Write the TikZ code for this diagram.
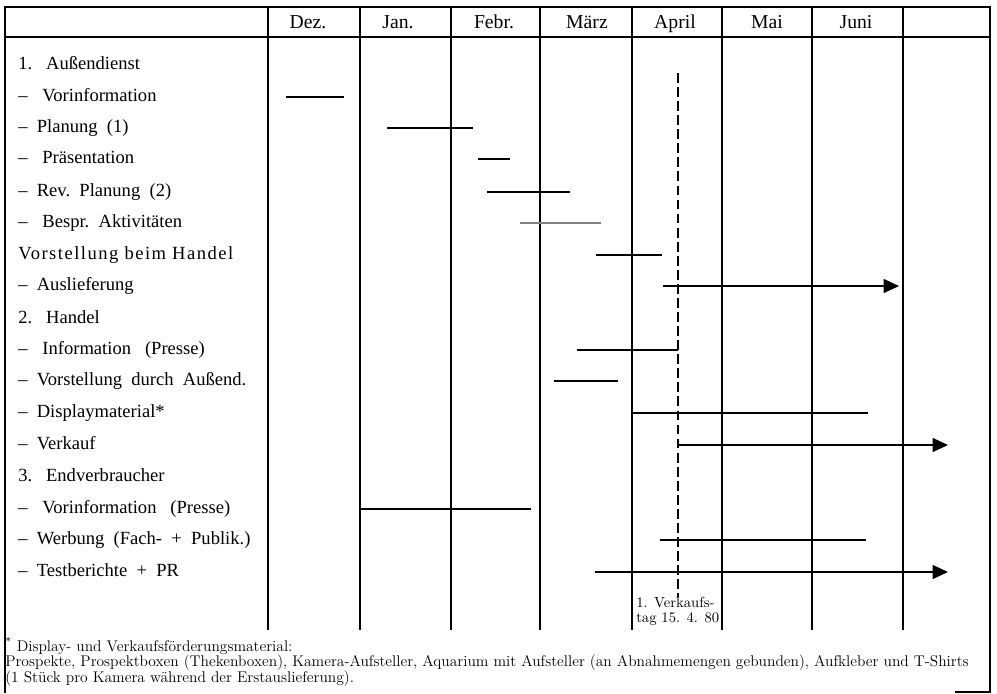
\documentclass[tikz,border=0pt]{standalone}
\usepackage{fontspec}
\newfontfamily\tabfont{Liberation Serif}
\usetikzlibrary{arrows.meta}

\newcommand{\dd}{–\enspace}
\newcommand{\ddw}{–\hspace{0.8em}}
\newcommand{\nr}[1]{#1.\hspace{0.75em}}

\begin{document}
\begin{tikzpicture}[
    x=0.025cm, y=-0.025cm,
    font=\tabfont\fontsize{13.2}{15}\selectfont,
    frame/.style={line width=1.6pt},
    col/.style={line width=1.1pt},
    month/.style={anchor=base, inner sep=0pt, font=\tabfont\fontsize{14}{16}\selectfont},
    task/.style={anchor=west, inner sep=0pt, text height=1.4ex, text depth=0pt},
    bar/.style={line width=0.9pt},
    arr/.style={line width=0.9pt, -{Triangle[length=11pt, width=10pt]}},
    daymark/.style={line width=1pt, dash pattern=on 7pt off 3pt},
    note/.style={font=\rmfamily\fontsize{11}{11.2}\selectfont, anchor=north west,
                 align=left, inner sep=0pt}
]
    \useasboundingbox (0,0) rectangle (997,693);

    % frame and month columns
    \draw[frame] (5,693) -- (5,7) -- (990,7) -- (990,693);
    \draw[frame] (5,37) -- (990,37);
    \draw[frame] (955,692) -- (990,692);
    \foreach \x in {268,360,451,540,632,722,812,903}
        \draw[col] (\x,7) -- (\x,630);

    \node[month] (dez) at (308,28) {Dez.};
    \node[month] (jan) at (398,28) {Jan.};
    \node[month] (feb) at (494,28) {Febr.};
    \node[month] (mar) at (587,28) {März};
    \node[month] (apr) at (675,28) {April};
    \node[month] (mai) at (767,28) {Mai};
    \node[month] (jun) at (856,28) {Juni};

    % tasks
    \node[task] (aussen)  at (18,65)  {\nr{1}Außendienst};
    \node[task] (vorinfo) at (18,97)  {\ddw Vorinformation};
    \node[task] (plan)    at (18,128) {\dd Planung~~(1)};
    \node[task] (praes)   at (18,159) {\ddw Präsentation};
    \node[task] (revplan) at (18,192) {\dd Rev.~~Planung~~(2)};
    \node[task] (bespr)   at (18,223) {\ddw Bespr.~~Aktivitäten};
    \node[task] (vorst)   at (18,255) {\addfontfeature{LetterSpace=8}Vorstellung~beim~Handel};
    \node[task] (ausl)    at (18,286) {\dd Auslieferung};
    \node[task] (handel)  at (18,319) {\nr{2}Handel};
    \node[task] (info)    at (18,350) {\ddw Information~~~(Presse)};
    \node[task] (vorstad) at (18,381) {\dd Vorstellung~~durch~~Außend.};
    \node[task] (display) at (18,413) {\dd Displaymaterial*};
    \node[task] (verkauf) at (18,445) {\dd Verkauf};
    \node[task] (endv)    at (18,477) {\nr{3}Endverbraucher};
    \node[task] (presse)  at (18,509) {\ddw Vorinformation~~~(Presse)};
    \node[task] (werbung) at (18,540) {\dd Werbung~~(Fach-~~+~~Publik.)};
    \node[task] (test)    at (18,572) {\dd Testberichte~~+~~PR};

    % bars
    \draw[bar] (286,0 |- vorinfo) -- (344,0 |- vorinfo);
    \draw[bar] (387,0 |- plan) -- (473,0 |- plan);
    \draw[bar] (478,0 |- praes) -- (510,0 |- praes);
    \draw[bar] (487,0 |- revplan) -- (570,0 |- revplan);
    \draw[bar, gray] (520,0 |- bespr) -- (601,0 |- bespr);
    \draw[bar] (596,0 |- vorst) -- (662,0 |- vorst);
    \draw[arr] (663,0 |- ausl) -- (899,0 |- ausl);
    \draw[bar] (577,0 |- info) -- (678,0 |- info);
    \draw[bar] (554,0 |- vorstad) -- (618,0 |- vorstad);
    \draw[bar] (632,0 |- display) -- (868,0 |- display);
    \draw[arr] (678,0 |- verkauf) -- (948,0 |- verkauf);
    \draw[bar] (360,0 |- presse) -- (531,0 |- presse);
    \draw[bar] (660,0 |- werbung) -- (866,0 |- werbung);
    \draw[arr] (595,0 |- test) -- (948,0 |- test);

    % first day of sale
    \node[note, font=\rmfamily\fontsize{10.4}{10.8}\selectfont] (tag) at (636,597)
        {1. Verkaufs-\\tag 15. 4. 80};
    \coordinate (tagtop) at (678,73);
    \draw[daymark] (tagtop) -- (tagtop |- tag.north);

    % footnote
    \node[note] (fn) at (5,637)
        {\textsuperscript{*} Display- und Verkaufsförderungsmaterial:\\
         Prospekte, Prospektboxen (Thekenboxen), Kamera-Aufsteller, Aquarium mit Aufsteller (an Abnahmemengen gebunden), Aufkleber und T-Shirts\\
         (1 Stück pro Kamera während der Erstauslieferung).};
\end{tikzpicture}
\end{document}
